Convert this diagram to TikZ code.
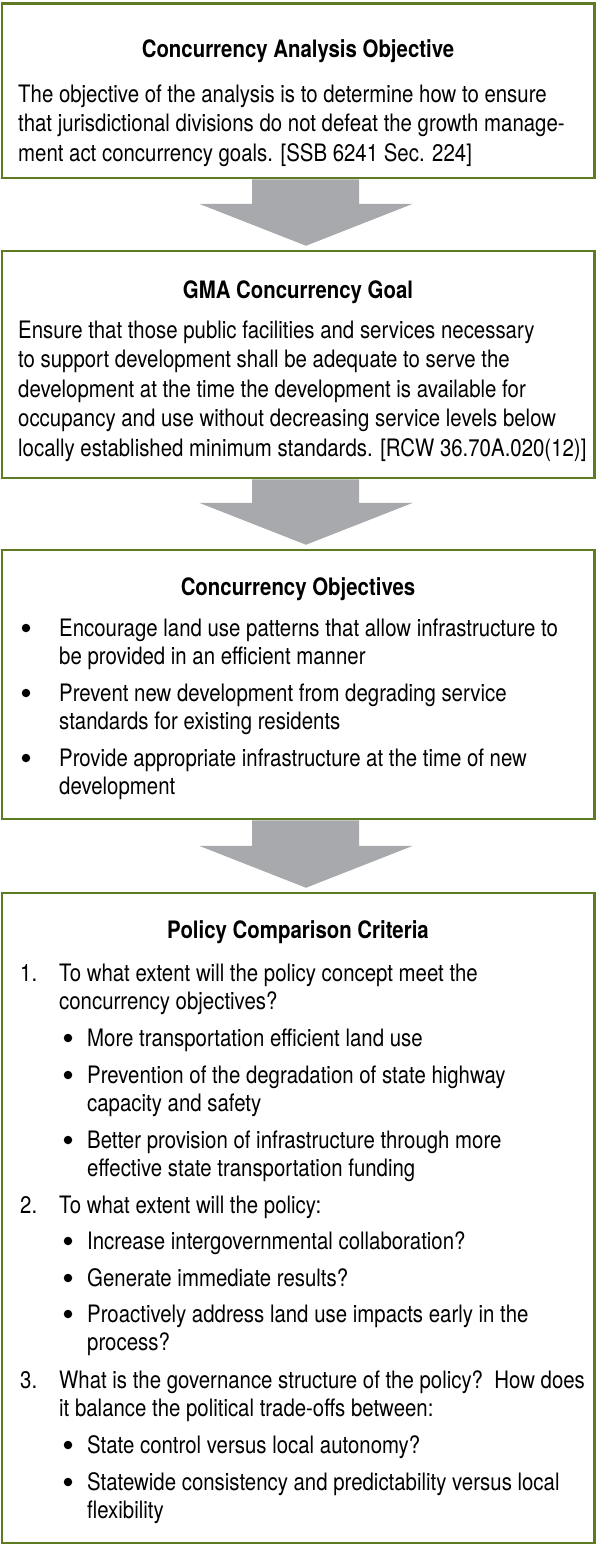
\documentclass[tikz,border=0pt]{standalone}
\usepackage{fontspec}
\setmainfont[FakeStretch=0.85]{TeX Gyre Heros}
\usetikzlibrary{calc,backgrounds}
\definecolor{panelgreen}{RGB}{94,122,34}
\definecolor{arrowgray}{RGB}{167,169,172}
\tikzset{
  panel/.style={draw=panelgreen, line width=2.5pt, minimum width=592.5pt, inner sep=0pt},
  paneltitle/.style={anchor=base, inner sep=0pt, font=\fontsize{24}{29}\selectfont\bfseries},
  body/.style={anchor=base west, align=left, inner sep=0pt, font=\fontsize{24}{29.5}\selectfont},
  listtext/.style={body, font=\fontsize{24}{28}\selectfont},
  num/.style={anchor=base west, inner sep=0pt, font=\fontsize{24}{28}\selectfont},
  dot/.style={circle, fill=black, inner sep=0pt, minimum size=8.5pt},
  bigarrow/.style={fill=arrowgray}
}

\begin{document}
\begin{tikzpicture}[x=1pt,y=1pt]
\useasboundingbox (0,0) rectangle (596,-1545);

\node[panel, minimum height=174.5pt] (objbox) at (298,-90.75) {};
\node[panel, minimum height=227pt] (goalbox) at (298,-364.5) {};
\node[panel, minimum height=269pt] (aimbox) at (298,-684.5) {};
\node[panel, minimum height=650pt] (critbox) at (298,-1218) {};

% analysis objective (multi-line texts sit on their last baseline)
\node[paneltitle] (objtitle) at (298,-57) {Concurrency Analysis Objective};
\node[body] (objtext) at (18,-161) {The objective of the analysis is to determine how to ensure\\
that jurisdictional divisions do not defeat the growth manage-\\
ment act concurrency goals. [SSB 6241 Sec. 224]};

% gma goal
\node[paneltitle] (goaltitle) at (298,-298) {GMA Concurrency Goal};
\node[body] (goaltext) at (18,-456) {Ensure that those public facilities and services necessary\\
to support development shall be adequate to serve the\\
development at the time the development is available for\\
occupancy and use without decreasing service levels below\\
locally established minimum standards. [RCW 36.70A.020(12)]};

% concurrency objectives
\node[paneltitle] (aimtitle) at (298,-595) {Concurrency Objectives};
\node[dot] (aim-dot-1) at (26,-628) {};
\node[listtext] (aim-1) at (59,-664) {Encourage land use patterns that allow infrastructure to\\
be provided in an efficient manner};
\node[dot] (aim-dot-2) at (26,-693) {};
\node[listtext] (aim-2) at (59,-729) {Prevent new development from degrading service\\
standards for existing residents};
\node[dot] (aim-dot-3) at (26,-758) {};
\node[listtext] (aim-3) at (59,-794) {Provide appropriate infrastructure at the time of new\\
development};

% comparison criteria
\node[paneltitle] (crittitle) at (298,-938) {Policy Comparison Criteria};
\node[num] (num-1) at (20,-981) {1.};
\node[listtext] (crit-1) at (59,-1009) {To what extent will the policy concept meet the\\
concurrency objectives?};
\node[dot] (dot-1-a) at (68,-1038) {};
\node[listtext] (crit-1-a) at (87,-1046) {More transportation efficient land use};
\node[dot] (dot-1-b) at (68,-1075) {};
\node[listtext] (crit-1-b) at (87,-1111) {Prevention of the degradation of state highway\\
capacity and safety};
\node[dot] (dot-1-c) at (68,-1140) {};
\node[listtext] (crit-1-c) at (87,-1176) {Better provision of infrastructure through more\\
effective state transportation funding};
\node[num] (num-2) at (20,-1213) {2.};
\node[listtext] (crit-2) at (59,-1213) {To what extent will the policy:};
\node[dot] (dot-2-a) at (68,-1241) {};
\node[listtext] (crit-2-a) at (87,-1249) {Increase intergovernmental collaboration?};
\node[dot] (dot-2-b) at (68,-1278) {};
\node[listtext] (crit-2-b) at (87,-1286) {Generate immediate results?};
\node[dot] (dot-2-c) at (68,-1314) {};
\node[listtext] (crit-2-c) at (87,-1350) {Proactively address land use impacts early in the\\
process?};
\node[num] (num-3) at (20,-1388) {3.};
\node[listtext] (crit-3) at (59,-1416) {What is the governance structure of the policy?\ \ How does\\
it balance the political trade-offs between:};
\node[dot] (dot-3-a) at (68,-1445) {};
\node[listtext] (crit-3-a) at (87,-1453) {State control versus local autonomy?};
\node[dot] (dot-3-b) at (68,-1482) {};
\node[listtext] (crit-3-b) at (87,-1518) {Statewide consistency and predictability versus local\\
flexibility};

% fat arrows between panels
\begin{scope}[on background layer]
\fill[bigarrow] ($(objbox.south)+(-46,0)$) |- ($(goalbox.north)+(-99,46)$) -- ($(goalbox.north)+(8,4)$) -- ($(goalbox.north)+(115,46)$) -| ($(objbox.south)+(61,0)$) -- cycle;
\fill[bigarrow] ($(goalbox.south)+(-46,0)$) |- ($(aimbox.north)+(-99,46)$) -- ($(aimbox.north)+(8,4)$) -- ($(aimbox.north)+(115,46)$) -| ($(goalbox.south)+(61,0)$) -- cycle;
\fill[bigarrow] ($(aimbox.south)+(-46,0)$) |- ($(critbox.north)+(-99,46)$) -- ($(critbox.north)+(8,4)$) -- ($(critbox.north)+(115,46)$) -| ($(aimbox.south)+(61,0)$) -- cycle;
\end{scope}
\end{tikzpicture}
\end{document}
